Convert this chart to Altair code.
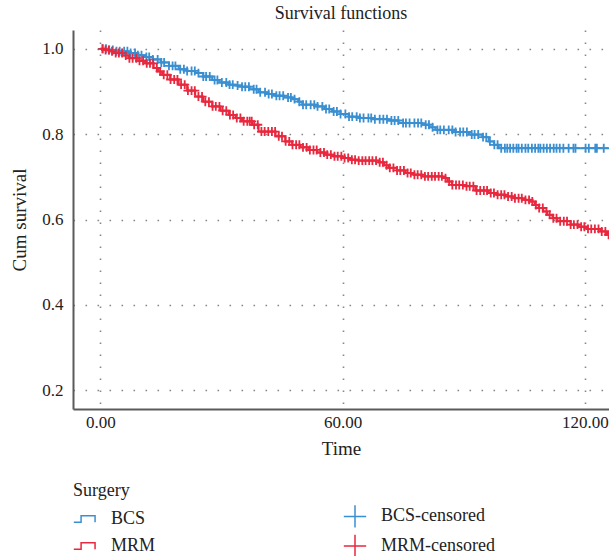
import altair as alt
import pandas as pd
import numpy as np

# Kaplan-Meier step curves (time, survival after step)
bcs_t = [0, 2, 4, 7, 9, 11, 13, 15, 17, 19.4, 21.5, 23.5, 25.5, 27.7, 29.5, 31.8, 33.5, 35.1, 37, 39.2,
         41.3, 43.4, 45.5, 47.5, 49, 50, 53.3, 55.5, 57.4, 59.5, 61.5, 64, 67.3, 71.4, 73.9, 79.7, 81.5,
         83, 88, 91.3, 94.6, 96.2, 97.5, 98.7, 126.5]
bcs_s = [1.0, 0.997, 0.994, 0.990, 0.985, 0.981, 0.975, 0.968, 0.960, 0.952, 0.948, 0.943, 0.935, 0.927,
         0.921, 0.916, 0.914, 0.911, 0.905, 0.898, 0.894, 0.890, 0.886, 0.882, 0.876, 0.869, 0.865, 0.859,
         0.853, 0.847, 0.841, 0.838, 0.835, 0.832, 0.826, 0.822, 0.816, 0.810, 0.805, 0.799, 0.793, 0.783,
         0.775, 0.767, 0.767]

mrm_t = [0, 1, 2.5, 3.7, 5.5, 7, 9, 11.1, 13.2, 14.3, 15.3, 17.3, 19.4, 21.5, 23.5, 25.5, 27.7, 29.8,
         31.8, 33.5, 35.1, 37.6, 39.2, 43.4, 45.8, 47.5, 49.5, 51.6, 53.7, 55.7, 57.8, 59.9, 62, 64, 69,
         70.3, 71.4, 73.5, 75.6, 77.6, 79.7, 84.7, 86, 87.1, 90.4, 92.9, 96.2, 98.3, 100.3, 102.4, 104.5,
         106.5, 107.6, 108.6, 109.7, 110.7, 112, 113.2, 116.5, 118.5, 120.6, 123.9, 125.5, 126.5]
mrm_s = [1.0, 0.997, 0.994, 0.990, 0.984, 0.978, 0.972, 0.966, 0.955, 0.947, 0.939, 0.928, 0.916, 0.902,
         0.888, 0.876, 0.865, 0.855, 0.845, 0.838, 0.830, 0.822, 0.806, 0.795, 0.783, 0.775, 0.769, 0.763,
         0.757, 0.752, 0.748, 0.744, 0.740, 0.738, 0.734, 0.727, 0.721, 0.715, 0.709, 0.705, 0.701, 0.697,
         0.689, 0.681, 0.678, 0.668, 0.662, 0.658, 0.654, 0.650, 0.646, 0.642, 0.634, 0.627, 0.619, 0.611,
         0.603, 0.596, 0.588, 0.583, 0.578, 0.572, 0.564, 0.564]

# censoring times
bcs_cens = [0.5, 1.4, 2.2, 3.1, 4.0, 4.8, 5.9, 6.7, 7.5, 8.6, 9.3, 10.2, 11.4, 12.1, 13.0, 14.2, 15.1,
            15.8, 17.0, 17.9, 18.6, 19.8, 20.7, 21.5, 22.6, 23.4, 24.3, 25.5, 26.2, 27.1, 28.3, 29.0,
            30.1, 31.2, 32.0, 32.8, 34.0, 35.1, 35.9, 36.8, 38.0, 38.7, 39.6, 40.8, 41.7, 42.5, 43.6,
            44.4, 45.3, 46.5, 47.2, 48.1, 49.3, 50.2, 51.0, 52.1, 53.0, 53.8, 55.0, 55.9, 56.7, 57.8,
            58.6, 59.5, 60.7, 61.6, 62.4, 63.5, 64.3, 65.2, 66.4, 67.1, 68.0, 69.2, 70.1, 71.0, 72.1,
            72.9, 73.8, 75.0, 75.7, 76.6, 77.8, 78.7, 79.5, 80.6, 81.4, 82.3, 83.5, 84.2, 85.1, 86.3,
            87.2, 88.0, 89.1, 89.9, 90.8, 92.0, 92.7, 93.6, 94.8, 95.6, 96.5, 97.6, 98.4, 99.3, 100.2,
            100.8, 101.5, 102.3, 103.1, 103.6, 104.4, 105.3, 106.0, 106.9, 107.7, 108.5, 109.0, 109.8,
            110.6, 111.4, 112.3, 113.0, 113.8, 114.7, 116.0, 117.2, 117.7, 120.2, 121.0, 122.6, 123.0,
            124.7]
mrm_cens = [0.6, 1.3, 2.1, 2.9, 3.8, 4.6, 5.4, 6.3, 7.2, 8.0, 8.9, 9.7, 10.6, 11.5, 12.3, 13.1, 14.0,
            14.8, 15.7, 16.6, 17.4, 18.3, 19.1, 20.0, 20.9, 21.7, 22.6, 23.4, 24.3, 25.2, 26.0, 26.9,
            27.8, 28.6, 29.5, 30.3, 31.2, 32.1, 32.9, 33.8, 34.7, 35.5, 36.4, 37.0, 37.5, 38.1, 39.0,
            39.9, 40.7, 41.6, 42.5, 43.3, 44.2, 45.0, 45.9, 46.8, 47.6, 48.5, 49.3, 50.2, 51.1, 51.9,
            52.8, 53.6, 54.5, 55.4, 56.2, 57.1, 58.0, 58.8, 59.7, 60.5, 61.4, 62.3, 63.1, 64.0, 64.9,
            65.7, 66.6, 67.4, 68.3, 69.2, 70.0, 70.9, 71.7, 72.6, 73.5, 74.3, 75.2, 76.1, 76.9, 77.8,
            78.6, 79.5, 80.4, 81.2, 82.1, 82.9, 83.8, 84.6, 85.5, 86.4, 87.2, 88.1, 88.9, 89.8, 90.7,
            91.5, 92.4, 93.2, 94.1, 95.0, 95.8, 96.7, 97.5, 98.4, 99.3, 100.1, 101.0, 101.9, 102.7,
            103.6, 104.4, 105.3, 106.2, 107.0, 107.9, 108.7, 109.6, 110.5, 111.3, 112.2, 113.0, 113.9,
            114.8, 115.6, 116.5, 117.3, 118.2, 119.1, 119.9, 120.8, 121.6, 122.5, 123.4, 124.2, 125.1,
            125.9]

BLUE = "#3a8fd1"
RED = "#e8283e"
FONT = "Liberation Serif"

# legend fills column by column: left column BCS, MRM; right column the censored marks
keys = ["BCS", "MRM", "BCS-censored", "MRM-censored"]
key_colors = [BLUE, RED, BLUE, RED]
STEP = "M-1,0.3H-0.35V-0.3H0.9V0.3"
CROSS = "M-1,0H1M0,-1V1"
key_shapes = [STEP, STEP, CROSS, CROSS]


def step_value(ts, ss, t):
    i = int(np.searchsorted(np.array(ts), t, side="right")) - 1
    return ss[max(i, 0)]


lines = pd.concat([
    pd.DataFrame({"time": bcs_t, "surv": bcs_s, "key": "BCS"}),
    pd.DataFrame({"time": mrm_t, "surv": mrm_s, "key": "MRM"}),
])
cens = pd.concat([
    pd.DataFrame({"time": bcs_cens, "surv": [step_value(bcs_t, bcs_s, t) for t in bcs_cens],
                  "key": "BCS-censored"}),
    pd.DataFrame({"time": mrm_cens, "surv": [step_value(mrm_t, mrm_s, t) for t in mrm_cens],
                  "key": "MRM-censored"}),
])

x_enc = alt.X("time:Q", scale=alt.Scale(domain=[-6.77, 126.0], nice=False, zero=False),
              axis=alt.Axis(title="Time", values=[0, 60, 120], format=".2f"))
y_enc = alt.Y("surv:Q", scale=alt.Scale(domain=[0.156, 1.044], nice=False, zero=False),
              axis=alt.Axis(title="Cum survival", values=[0.2, 0.4, 0.6, 0.8, 1.0], format=".1f"))

color_scale = alt.Scale(domain=keys, range=key_colors)
legend = alt.Legend(title="Surgery", orient="none", legendX=0, legendY=452, columns=2,
                    columnPadding=184, rowPadding=0, titlePadding=4, symbolSize=500,
                    symbolStrokeWidth=1.5, labelOffset=14, padding=0)

line_layer = alt.Chart(lines).mark_line(interpolate="step-after", strokeWidth=2, clip=True).encode(
    x=x_enc, y=y_enc,
    color=alt.Color("key:N", scale=color_scale, legend=legend),
    detail="key:N",
)

cens_layer = alt.Chart(cens).mark_point(filled=False, size=80, strokeWidth=1.8, opacity=1, clip=True).encode(
    x=x_enc, y=y_enc,
    color=alt.Color("key:N", scale=color_scale, legend=legend),
    shape=alt.Shape("key:N", scale=alt.Scale(domain=keys, range=key_shapes), legend=legend),
)

chart = alt.layer(line_layer, cens_layer).properties(
    width=536, height=379,
    title=alt.Title("Survival functions", font=FONT, fontSize=18, fontWeight="normal",
                    color="#222", offset=7, anchor="middle"),
    autosize=alt.AutoSizeParams(type="none"),
    padding={"left": 73, "top": 30, "right": 0, "bottom": 147},
).configure_view(stroke=None).configure_axis(
    labelFont=FONT, titleFont=FONT, labelFontSize=17, titleFontSize=19,
    labelColor="#222", titleColor="#222", titleFontWeight="normal",
    domainColor="#5a5a5a", domainWidth=2, ticks=False,
    grid=True, gridColor="#888", gridWidth=1.6, gridDash=[1.6, 10.4],
).configure_axisX(labelPadding=5, titlePadding=9).configure_axisY(
    labelPadding=10, titlePadding=12
).configure_legend(
    labelFont=FONT, titleFont=FONT, labelFontSize=18, titleFontSize=18,
    titleFontWeight="normal", labelColor="#222", titleColor="#222",
)

chart.save("out.html", embed_options={"renderer": "svg", "actions": False})
